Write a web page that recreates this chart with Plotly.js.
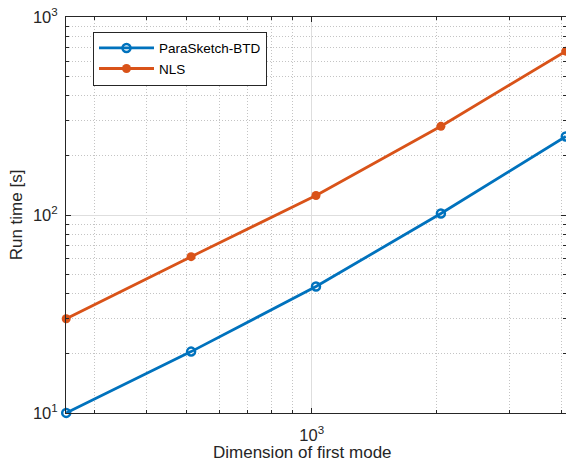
<!DOCTYPE html>
<html>
<head>
<meta charset="utf-8">
<script src="https://cdn.plot.ly/plotly-3.0.1.min.js"></script>
<style>html,body{margin:0;padding:0;background:#fff;}#chart{width:566px;height:466px;}</style>
</head>
<body>
<div id="chart"></div>
<script>
// Data
const dimensions = [256, 512, 1024, 2048, 4096];
const paraSketchTimes = [10.0, 20.4, 43.5, 101.8, 249.5];
const nlsTimes = [29.9, 61.6, 125.5, 280.6, 673];
const seriesNames = ['ParaSketch-BTD', 'NLS'];
const xTickVals = [1000];
const xTickText = ['10<sup>3</sup>'];
const yTickVals = [10, 100, 1000];
const yTickText = ['10<sup>1</sup>', '10<sup>2</sup>', '10<sup>3</sup>'];
const xMinorVals = [300, 400, 500, 600, 700, 800, 900, 2000, 3000, 4000];
const yMinorVals = [20, 30, 40, 50, 60, 70, 80, 90, 200, 300, 400, 500, 600, 700, 800, 900];
const xTitle = 'Dimension of first mode';
const yTitle = 'Run time [s]';

const FONT = 'Liberation Sans, Arial, Helvetica, sans-serif';
const AX = '#262626';

const traces = [
  {
    x: dimensions, y: paraSketchTimes, name: seriesNames[0],
    type: 'scatter', mode: 'lines+markers',
    line: {color: '#0072BD', width: 2.8},
    marker: {symbol: 'circle-open', size: 8, color: '#0072BD', line: {width: 2.5, color: '#0072BD'}},
    cliponaxis: false
  },
  {
    x: dimensions, y: nlsTimes, name: seriesNames[1],
    type: 'scatter', mode: 'lines+markers',
    line: {color: '#D95319', width: 2.8},
    marker: {symbol: 'circle', size: 9, color: '#D95319'},
    cliponaxis: false
  }
];

const axisCommon = {
  type: 'log',
  showline: true, linecolor: AX, linewidth: 1, mirror: 'allticks',
  ticks: 'inside', ticklen: 5, tickcolor: AX, tickwidth: 1,
  showgrid: true, gridcolor: '#dedede', gridwidth: 1,
  zeroline: false,
  tickfont: {family: FONT, size: 16.5, color: AX},
  tickmode: 'array'
};

const layout = {
  width: 566, height: 466,
  margin: {l: 66, r: 0, t: 17, b: 53, pad: 0},
  paper_bgcolor: '#ffffff', plot_bgcolor: '#ffffff',
  font: {family: FONT, color: AX},
  showlegend: true,
  legend: {
    x: 0.054, y: 0.963, xanchor: 'left', yanchor: 'top',
    bgcolor: '#ffffff', bordercolor: AX, borderwidth: 1,
    font: {family: FONT, size: 13.5, color: '#000000'},
    itemwidth: 55, tracegroupgap: 0
  },
  xaxis: Object.assign({}, axisCommon, {
    range: [Math.log10(256) - 0.0005, Math.log10(4096) + 0.0005],
    tickvals: xTickVals, ticktext: xTickText,
    ticklabelstandoff: 7,
    minor: {tickmode: 'array', tickvals: xMinorVals, ticks: 'inside', ticklen: 3, tickcolor: AX,
            showgrid: true, gridcolor: '#c4c4c4', griddash: '1px,2px', gridwidth: 1}
  }),
  yaxis: Object.assign({}, axisCommon, {
    range: [0.9995, 3.0005],
    tickvals: yTickVals, ticktext: yTickText,
    ticklabelstandoff: 4,
    minor: {tickmode: 'array', tickvals: yMinorVals, ticks: 'inside', ticklen: 3, tickcolor: AX,
            showgrid: true, gridcolor: '#c4c4c4', griddash: '1px,2px', gridwidth: 1},
    title: {text: yTitle, font: {family: FONT, size: 17, color: AX}}
  }),
  annotations: [{
    text: xTitle, xref: 'paper', yref: 'paper', x: 0.472, y: -0.101,
    xanchor: 'center', yanchor: 'middle', showarrow: false,
    font: {family: FONT, size: 17, color: AX}
  }]
};

Plotly.newPlot('chart', traces, layout, {staticPlot: true, displayModeBar: false});
</script>
</body>
</html>
